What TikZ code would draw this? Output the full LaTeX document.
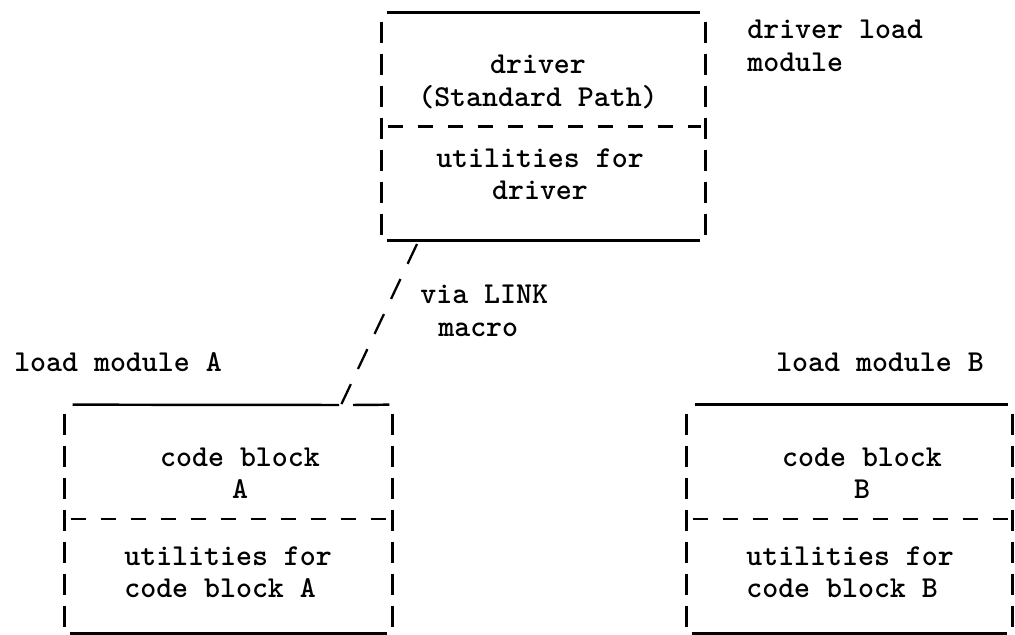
\documentclass[tikz,border=0pt]{standalone}
\usetikzlibrary{calc}
\begin{document}
\begin{tikzpicture}[x=0.02cm,y=-0.02cm]
\tikzset{box style/.style={shape=rectangle, inner sep=0pt},
         text style/.style={font=\fontsize{17.3}{18.5}\selectfont\ttfamily\bfseries, inner sep=0pt, align=center},
         rule line/.style={line width=1.4pt},
         side line/.style={line width=1.5pt, dash pattern=on 0.42cm off 0.22cm, dash phase=0.46cm},
         split line/.style={line width=1.7pt, dash pattern=on 0.3cm off 0.3cm},
         link line/.style={line width=1.3pt, dash pattern=on 0.44cm off 0.335cm}}
\useasboundingbox (0,0) rectangle (1015,635);

% the three load modules
\node[box style, minimum width=6.46cm, minimum height=4.54cm] at (543.5,126.5) (drv)  {};
\node[box style, minimum width=6.54cm, minimum height=4.56cm] at (228.5,519)   (modA) {};
\node[box style, minimum width=6.50cm, minimum height=4.56cm] at (849.5,519)   (modB) {};

\node[text style] at (538,82)  (drvcode) {driver\\(Standard Path)};
\node[text style] at (540,174) (drvutil) {utilities for\\driver};
\node[text style, anchor=west, align=left] at (747,46) (drvname) {driver load\\module};

\node[text style] at (118,362) (nameA) {load module A};
\node[text style] at (880,362) (nameB) {load module B};

\node[text style] at (240,473) (codeA) {code block\\A};
\node[text style, anchor=west, align=left] at (124,572) (utilA) {utilities for\\code block A};
\node[text style] at (862,473) (codeB) {code block\\B};
\node[text style, anchor=west, align=left] at (746,572) (utilB) {utilities for\\code block B};

\node[text style, anchor=west, align=left] at (420,311) (via) {via LINK\\\hspace*{0.36cm}macro};

\coordinate (lnkD) at (417,244);
\coordinate (lnkA) at (341,405);

% typed sides, rules and the split between code and utilities
\foreach \b in {drv,modA,modB} {
  \draw[side line] (\b.north west) -- (\b.south west);
  \draw[side line] (\b.north east) -- (\b.south east);
  \draw[split line] ($(\b.west)+(6,0)$) -- ($(\b.east)+(-4,0)$);
  \draw[rule line] ($(\b.south west)+(5,0)$) -- ($(\b.south east)+(-5,0)$);
}
\draw[rule line] ($(drv.north west)+(5,0)$) -- ($(drv.north east)+(-5,0)$);
\draw[rule line] ($(modB.north west)+(8,0)$) -- ($(modB.north east)+(-4,0)$);
\draw[rule line] ($(modA.north west)+(8,0)$) -- ($(lnkA)+(-2,0)$);
\draw[rule line] ($(lnkA)+(12,0)$) -- ($(modA.north east)+(-3,0)$);

\draw[link line] (lnkD) -- (lnkA);
\end{tikzpicture}
\end{document}
